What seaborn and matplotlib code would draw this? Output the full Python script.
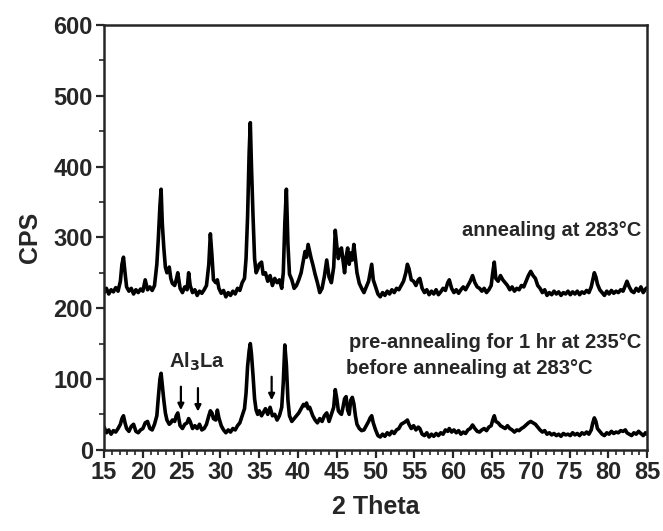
import numpy as np
import pandas as pd
import matplotlib
matplotlib.use("Agg")
import matplotlib.pyplot as plt
import seaborn as sns

# XRD patterns (2 theta, CPS)
theta_top = [15.0, 15.3, 15.6, 15.9, 16.2, 16.5, 16.8, 17.1, 17.3, 17.5, 17.7, 17.9, 18.2, 18.5, 18.8, 19.1,
             19.4, 19.7, 20.0, 20.3, 20.6, 20.9, 21.2, 21.5, 21.8, 22.0, 22.2, 22.35, 22.5, 22.7, 22.9, 23.1,
             23.4, 23.6, 23.8, 24.1, 24.3, 24.5, 24.8, 25.1, 25.4, 25.7, 25.9, 26.1, 26.4, 26.7, 27.0, 27.3,
             27.6, 27.9, 28.2, 28.5, 28.7, 28.9, 29.1, 29.4, 29.6, 29.8, 30.1, 30.4, 30.7, 31.0, 31.3, 31.6,
             31.9, 32.2, 32.5, 32.8, 33.1, 33.3, 33.5, 33.7, 33.85, 34.0, 34.2, 34.4, 34.6, 34.8, 35.0, 35.3,
             35.5, 35.8, 36.1, 36.4, 36.7, 37.0, 37.3, 37.6, 37.9, 38.1, 38.3, 38.5, 38.7, 38.9, 39.2, 39.5,
             39.8, 40.1, 40.4, 40.7, 40.9, 41.1, 41.3, 41.5, 41.7, 41.9, 42.2, 42.5, 42.8, 43.1, 43.4, 43.7,
             44.0, 44.3, 44.6, 44.8, 45.0, 45.2, 45.4, 45.6, 45.8, 46.0, 46.2, 46.4, 46.6, 46.8, 47.0, 47.2,
             47.4, 47.6, 47.9, 48.2, 48.5, 48.8, 49.1, 49.3, 49.5, 49.7, 50.0, 50.3, 50.6, 50.9, 51.2, 51.5,
             51.8, 52.1, 52.4, 52.7, 53.0, 53.3, 53.6, 53.9, 54.1, 54.3, 54.6, 54.9, 55.2, 55.5, 55.7, 56.0,
             56.3, 56.6, 56.9, 57.2, 57.5, 57.8, 58.1, 58.4, 58.7, 59.0, 59.3, 59.5, 59.8, 60.1, 60.4, 60.7,
             61.0, 61.3, 61.6, 61.9, 62.2, 62.5, 62.8, 63.1, 63.4, 63.7, 64.0, 64.3, 64.6, 64.9, 65.1, 65.3,
             65.5, 65.8, 66.1, 66.4, 66.7, 67.0, 67.3, 67.6, 67.9, 68.2, 68.5, 68.8, 69.1, 69.4, 69.7, 70.0,
             70.3, 70.6, 70.9, 71.2, 71.5, 71.8, 72.1, 72.4, 72.7, 73.0, 73.3, 73.6, 73.9, 74.2, 74.5, 74.8,
             75.1, 75.4, 75.7, 76.0, 76.3, 76.6, 76.9, 77.2, 77.5, 77.8, 78.0, 78.2, 78.4, 78.6, 78.9, 79.2,
             79.5, 79.8, 80.1, 80.4, 80.7, 81.0, 81.3, 81.6, 81.9, 82.2, 82.4, 82.7, 83.0, 83.3, 83.6, 83.9,
             84.2, 84.5, 84.8, 85.0]
cps_top = [222, 228, 220, 226, 223, 229, 224, 238, 262, 272, 250, 230, 224, 228, 220, 226,
           222, 227, 224, 240, 226, 230, 225, 232, 262, 300, 345, 368, 320, 285, 258, 250,
           258, 242, 235, 232, 240, 250, 228, 222, 230, 226, 250, 232, 222, 226, 218, 224,
           221, 226, 232, 262, 305, 275, 240, 236, 240, 228, 221, 225, 216, 222, 218, 224,
           220, 228, 225, 236, 242, 270, 330, 420, 462, 400, 330, 270, 250, 255, 262, 265,
           248, 250, 238, 246, 232, 242, 236, 240, 228, 250, 320, 368, 290, 248, 240, 228,
           232, 240, 250, 268, 280, 272, 290, 280, 270, 262, 248, 236, 222, 228, 245, 268,
           244, 236, 258, 310, 288, 270, 282, 285, 268, 250, 272, 285, 262, 278, 268, 290,
           270, 250, 235, 228, 222, 230, 238, 250, 262, 240, 230, 220, 216, 222, 218, 224,
           220, 226, 222, 228, 226, 232, 238, 250, 262, 256, 240, 238, 232, 240, 242, 228,
           222, 226, 219, 224, 220, 226, 219, 223, 228, 225, 236, 240, 228, 222, 226, 221,
           226, 230, 226, 232, 238, 246, 236, 230, 228, 224, 228, 222, 226, 232, 250, 265,
           242, 238, 246, 240, 236, 232, 226, 230, 224, 228, 226, 232, 230, 238, 246, 252,
           246, 242, 232, 228, 222, 226, 218, 222, 219, 224, 220, 223, 218, 222, 220, 224,
           219, 223, 220, 224, 219, 223, 221, 225, 222, 230, 240, 250, 244, 234, 226, 222,
           218, 224, 220, 225, 221, 224, 222, 226, 224, 232, 238, 230, 224, 222, 228, 224,
           230, 222, 227, 229]

theta_bot = [15.0, 15.3, 15.6, 15.9, 16.2, 16.5, 16.8, 17.1, 17.3, 17.5, 17.7, 17.9, 18.2, 18.5, 18.8, 19.1,
             19.4, 19.7, 20.0, 20.3, 20.6, 20.9, 21.2, 21.5, 21.8, 22.0, 22.2, 22.35, 22.5, 22.7, 22.9, 23.1,
             23.4, 23.6, 23.8, 24.1, 24.3, 24.5, 24.8, 25.1, 25.4, 25.7, 25.9, 26.1, 26.4, 26.7, 27.0, 27.3,
             27.6, 27.9, 28.2, 28.5, 28.7, 28.9, 29.1, 29.4, 29.6, 29.8, 30.1, 30.4, 30.7, 31.0, 31.3, 31.6,
             31.9, 32.2, 32.5, 32.8, 33.1, 33.3, 33.5, 33.7, 33.85, 34.0, 34.2, 34.4, 34.6, 34.8, 35.0, 35.3,
             35.5, 35.8, 36.1, 36.4, 36.7, 37.0, 37.3, 37.6, 37.9, 38.1, 38.3, 38.5, 38.7, 38.9, 39.2, 39.5,
             39.8, 40.1, 40.4, 40.7, 40.9, 41.1, 41.3, 41.5, 41.7, 41.9, 42.2, 42.5, 42.8, 43.1, 43.4, 43.7,
             44.0, 44.3, 44.6, 44.8, 45.0, 45.2, 45.4, 45.6, 45.8, 46.0, 46.2, 46.4, 46.6, 46.8, 47.0, 47.2,
             47.4, 47.6, 47.9, 48.2, 48.5, 48.8, 49.1, 49.3, 49.5, 49.7, 50.0, 50.3, 50.6, 50.9, 51.2, 51.5,
             51.8, 52.1, 52.4, 52.7, 53.0, 53.3, 53.6, 53.9, 54.1, 54.3, 54.6, 54.9, 55.2, 55.5, 55.7, 56.0,
             56.3, 56.6, 56.9, 57.2, 57.5, 57.8, 58.1, 58.4, 58.7, 59.0, 59.3, 59.5, 59.8, 60.1, 60.4, 60.7,
             61.0, 61.3, 61.6, 61.9, 62.2, 62.5, 62.8, 63.1, 63.4, 63.7, 64.0, 64.3, 64.6, 64.9, 65.1, 65.3,
             65.5, 65.8, 66.1, 66.4, 66.7, 67.0, 67.3, 67.6, 67.9, 68.2, 68.5, 68.8, 69.1, 69.4, 69.7, 70.0,
             70.3, 70.6, 70.9, 71.2, 71.5, 71.8, 72.1, 72.4, 72.7, 73.0, 73.3, 73.6, 73.9, 74.2, 74.5, 74.8,
             75.1, 75.4, 75.7, 76.0, 76.3, 76.6, 76.9, 77.2, 77.5, 77.8, 78.0, 78.2, 78.4, 78.6, 78.9, 79.2,
             79.5, 79.8, 80.1, 80.4, 80.7, 81.0, 81.3, 81.6, 81.9, 82.2, 82.4, 82.7, 83.0, 83.3, 83.6, 83.9,
             84.2, 84.5, 84.8, 85.0]
cps_bot = [32, 24, 28, 22, 27, 25, 30, 36, 44, 48, 38, 30, 26, 33, 36, 26,
           24, 28, 30, 38, 40, 30, 28, 36, 48, 75, 100, 108, 92, 70, 52, 42,
           36, 38, 42, 40, 48, 52, 34, 30, 36, 38, 44, 40, 30, 34, 30, 36,
           28, 30, 36, 48, 55, 52, 44, 42, 56, 45, 34, 28, 24, 28, 25, 30,
           28, 34, 38, 48, 58, 80, 118, 140, 150, 135, 105, 72, 56, 50, 55, 48,
           52, 58, 50, 60, 48, 50, 42, 48, 60, 95, 148, 120, 70, 48, 40, 44,
           48, 52, 58, 64, 62, 66, 58, 60, 54, 48, 42, 38, 44, 40, 48, 52,
           40, 50, 60, 85, 72, 55, 52, 50, 60, 72, 75, 56, 50, 70, 74, 65,
           48, 36, 30, 27, 28, 34, 40, 45, 48, 38, 28, 20, 18, 22, 19, 24,
           21, 26, 23, 28, 30, 36, 38, 40, 42, 36, 30, 34, 28, 32, 30, 22,
           20, 24, 18, 22, 19, 23, 20, 24, 22, 28, 26, 30, 25, 28, 24, 27,
           22, 25, 23, 28, 30, 35, 30, 26, 25, 28, 30, 27, 32, 34, 42, 48,
           40, 38, 34, 32, 30, 34, 30, 28, 25, 28, 27, 30, 32, 35, 38, 40,
           38, 36, 32, 28, 25, 27, 22, 24, 21, 23, 20, 22, 19, 23, 21, 22,
           20, 24, 21, 23, 20, 24, 22, 25, 22, 28, 38, 45, 40, 30, 26, 22,
           20, 24, 22, 26, 23, 25, 24, 27, 26, 28, 24, 22, 20, 24, 22, 26,
           23, 20, 24, 22]

top = pd.DataFrame({"theta": theta_top, "cps": cps_top})
bot = pd.DataFrame({"theta": theta_bot, "cps": cps_bot})

sns.set_style("ticks")
plt.rcParams['font.family'] = ['Liberation Sans', 'DejaVu Sans']
plt.rcParams['font.weight'] = 'bold'

fig = plt.figure(figsize=(6.63, 5.31), dpi=100)
ax = fig.add_axes([0.157, 0.153, 0.819, 0.800])

sns.lineplot(data=top, x="theta", y="cps", color="black", lw=2.6, ax=ax)
sns.lineplot(data=bot, x="theta", y="cps", color="black", lw=2.6, ax=ax)

ax.set_xlim(15, 85)
ax.set_ylim(0, 600)
ax.set_xticks(np.arange(15, 86, 5))
ax.set_xticks(np.arange(15, 86, 1), minor=True)
ax.set_yticks(np.arange(0, 601, 100))
ax.set_yticks(np.arange(0, 601, 50), minor=True)
ax.tick_params(axis="both", which="major", direction="out", length=6, width=1.6, labelsize=17, pad=2)
ax.tick_params(axis="both", which="minor", direction="out", length=3.5, width=1.2)
for tl in ax.get_xticklabels() + ax.get_yticklabels():
    tl.set_fontweight("bold")
for sp in ax.spines.values():
    sp.set_linewidth(1.8)

ax.set_xlabel("2 Theta", fontsize=18, fontweight="bold", labelpad=8)
ax.set_ylabel("CPS", fontsize=18, fontweight="bold", labelpad=8)

ax.text(84.3, 310, "annealing at 283°C", ha="right", va="center", fontsize=14.5, fontweight="bold")
ax.text(84.3, 151, "pre-annealing for 1 hr at 235°C", ha="right", va="center", fontsize=14.5, fontweight="bold")
ax.text(46.2, 115, "before annealing at 283°C", ha="left", va="center", fontsize=14.5, fontweight="bold")
ax.text(27.0, 124, "Al$_\\mathbf{3}$La", ha="center", va="center", fontsize=14.5, fontweight="bold")

arrow = dict(arrowstyle="-|>", color="black", lw=1.6, mutation_scale=9)
ax.annotate("", xy=(24.9, 52), xytext=(24.9, 93), arrowprops=arrow)
ax.annotate("", xy=(27.1, 50), xytext=(27.1, 91), arrowprops=arrow)
ax.annotate("", xy=(36.6, 66), xytext=(36.6, 107), arrowprops=arrow)

fig.savefig("out.png", dpi=100)
